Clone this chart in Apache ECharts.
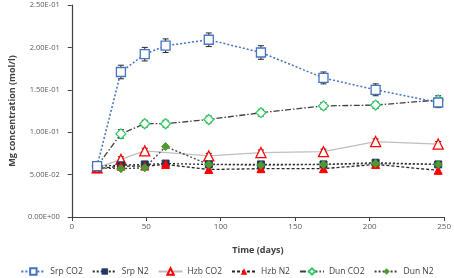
<!DOCTYPE html>
<html><head><meta charset="utf-8">
<script src="https://cdn.jsdelivr.net/npm/echarts@6/dist/echarts.min.js"></script>
<style>html,body{margin:0;padding:0;background:#fff}#c{width:454px;height:278px}</style>
</head><body><div id="c"></div>
<script>
const days = [17, 33, 49, 63, 92, 127, 169, 204, 246];
const srpCO2 = [0.060, 0.171, 0.192, 0.202, 0.209, 0.194, 0.164, 0.150, 0.135];
const srpN2  = [0.060, 0.061, 0.062, 0.063, 0.062, 0.062, 0.062, 0.064, 0.062];
const hzbCO2 = [0.058, 0.068, 0.078, null, 0.072, 0.076, 0.077, 0.089, 0.086];
const hzbN2  = [0.057, 0.060, 0.060, 0.062, 0.056, 0.057, 0.057, 0.062, 0.055];
const dunCO2 = [0.060, 0.098, 0.110, 0.110, 0.115, 0.123, 0.131, 0.132, 0.138];
const dunN2  = [0.058, 0.057, 0.058, 0.083, 0.062, 0.061, 0.062, 0.063, 0.062];
const srpCO2Err = [0.003, 0.008, 0.008, 0.008, 0.008, 0.008, 0.007, 0.007, 0.006];
const hzbCO2Err = [0.002, 0.003, 0.003, null, 0.003, 0.003, 0.003, 0.003, 0.003];
const dunCO2Err = [0.002, 0.005, 0.004, 0.004, 0.004, 0.004, 0.004, 0.004, 0.005];
const xTicks = [0, 50, 100, 150, 200, 250];
const yTicks = [0, 0.05, 0.1, 0.15, 0.2, 0.25];

function pairs(arr){ return days.map((d,i)=>[d, arr[i]]).filter(p=>p[1]!==null); }
function errData(vals, errs){ return days.map((d,i)=>[d, vals[i], errs[i]]).filter(p=>p[1]!==null && p[2]!==null); }
function errSeries(vals, errs){
  return {
    type:'custom', z:1, silent:true, legendHoverLink:false,
    data: errData(vals, errs),
    renderItem: function(params, api){
      const x = api.value(0), y = api.value(1), e = api.value(2);
      const hi = api.coord([x, y+e]), lo = api.coord([x, y-e]);
      const cw = 3;
      const st = {stroke:'#262626', lineWidth:1};
      return {type:'group', children:[
        {type:'line', shape:{x1:hi[0],y1:hi[1],x2:lo[0],y2:lo[1]}, style:st},
        {type:'line', shape:{x1:hi[0]-cw,y1:hi[1],x2:hi[0]+cw,y2:hi[1]}, style:st},
        {type:'line', shape:{x1:lo[0]-cw,y1:lo[1],x2:lo[0]+cw,y2:lo[1]}, style:st}
      ]};
    }
  };
}
function fmtY(v){
  if (v === 0) return '0.00E+00';
  const e = Math.floor(Math.log10(Math.abs(v)) + 1e-9);
  const m = v / Math.pow(10, e);
  const sign = e < 0 ? '-' : '+';
  const ae = Math.abs(e);
  return m.toFixed(2) + 'E' + sign + (ae < 10 ? '0' + ae : ae);
}
const fontFam = '"Open Sans", "Noto Sans", sans-serif';
const chart = echarts.init(document.getElementById('c'), null, {renderer:'canvas'});
chart.setOption({
  animation:false,
  backgroundColor:'#fff',
  grid:{left:57, right:8, top:5, bottom:61, containLabel:false},
  xAxis:{type:'value', min:xTicks[0], max:xTicks[xTicks.length-1], interval:50,
    name:'Time (days)', nameLocation:'middle', nameGap:29,
    nameTextStyle:{color:'#404040', fontSize:9, fontWeight:'bold', fontFamily:fontFam},
    axisLine:{lineStyle:{color:'#404040', width:1.2}},
    axisTick:{show:true, inside:false, length:4, lineStyle:{color:'#404040'}},
    axisLabel:{color:'#595959', fontSize:8, fontFamily:fontFam, margin:6},
    splitLine:{show:false}},
  yAxis:{type:'value', min:yTicks[0], max:yTicks[yTicks.length-1], interval:0.05,
    name:'Mg concentration (mol/l)', nameLocation:'middle', nameGap:44, nameRotate:90,
    nameTextStyle:{color:'#404040', fontSize:9, fontWeight:'bold', fontFamily:fontFam},
    axisLine:{show:true, lineStyle:{color:'#404040', width:1.2}},
    axisTick:{show:true, inside:false, length:4, lineStyle:{color:'#404040'}},
    axisLabel:{color:'#595959', fontSize:7.5, fontFamily:fontFam, margin:12, formatter:fmtY},
    splitLine:{show:false}},
  legend:{top:267, left:'center', padding:0, itemWidth:24, itemHeight:8, itemGap:9,
    textStyle:{color:'#404040', fontSize:8.5, fontFamily:fontFam},
    data:['Srp CO2','Srp N2','Hzb CO2','Hzb N2','Dun CO2','Dun N2']},
  series:[
    {name:'Hzb CO2', type:'line', data:pairs(hzbCO2), z:3, symbol:'triangle', symbolSize:10,
      lineStyle:{color:'#BFBFBF', width:1.3, type:'solid'},
      itemStyle:{color:'#fff', borderColor:'#FF0000', borderWidth:1.3}},
    {name:'Srp N2', type:'line', data:pairs(srpN2), z:4, symbol:'rect', symbolSize:7,
      lineStyle:{color:'#262626', width:1.3, type:[2,2]},
      itemStyle:{color:'#1F3864', borderColor:'#1F3864'}},
    {name:'Hzb N2', type:'line', data:pairs(hzbN2), z:4, symbol:'triangle', symbolSize:8,
      lineStyle:{color:'#262626', width:1.3, type:[3,2]},
      itemStyle:{color:'#FF0000', borderColor:'#FF0000'}},
    {name:'Dun N2', type:'line', data:pairs(dunN2), z:4, symbol:'diamond', symbolSize:8,
      lineStyle:{color:'#404040', width:1.3, type:[2,2]},
      itemStyle:{color:'#4E9A2E', borderColor:'#4E9A2E'}},
    {name:'Dun CO2', type:'line', data:pairs(dunCO2), z:5, symbol:'diamond', symbolSize:10,
      lineStyle:{color:'#404040', width:1.3, type:[6,2,1.5,2]},
      itemStyle:{color:'#fff', borderColor:'#33CC66', borderWidth:1.3}},
    {name:'Srp CO2', type:'line', data:pairs(srpCO2), z:5, symbol:'rect', symbolSize:9,
      lineStyle:{color:'#4472C4', width:1.5, type:[2,2]},
      itemStyle:{color:'#fff', borderColor:'#4472C4', borderWidth:1.3}},
    errSeries(srpCO2, srpCO2Err),
    errSeries(dunCO2, dunCO2Err),
    errSeries(hzbCO2, hzbCO2Err)
  ]
});
</script></body></html>
